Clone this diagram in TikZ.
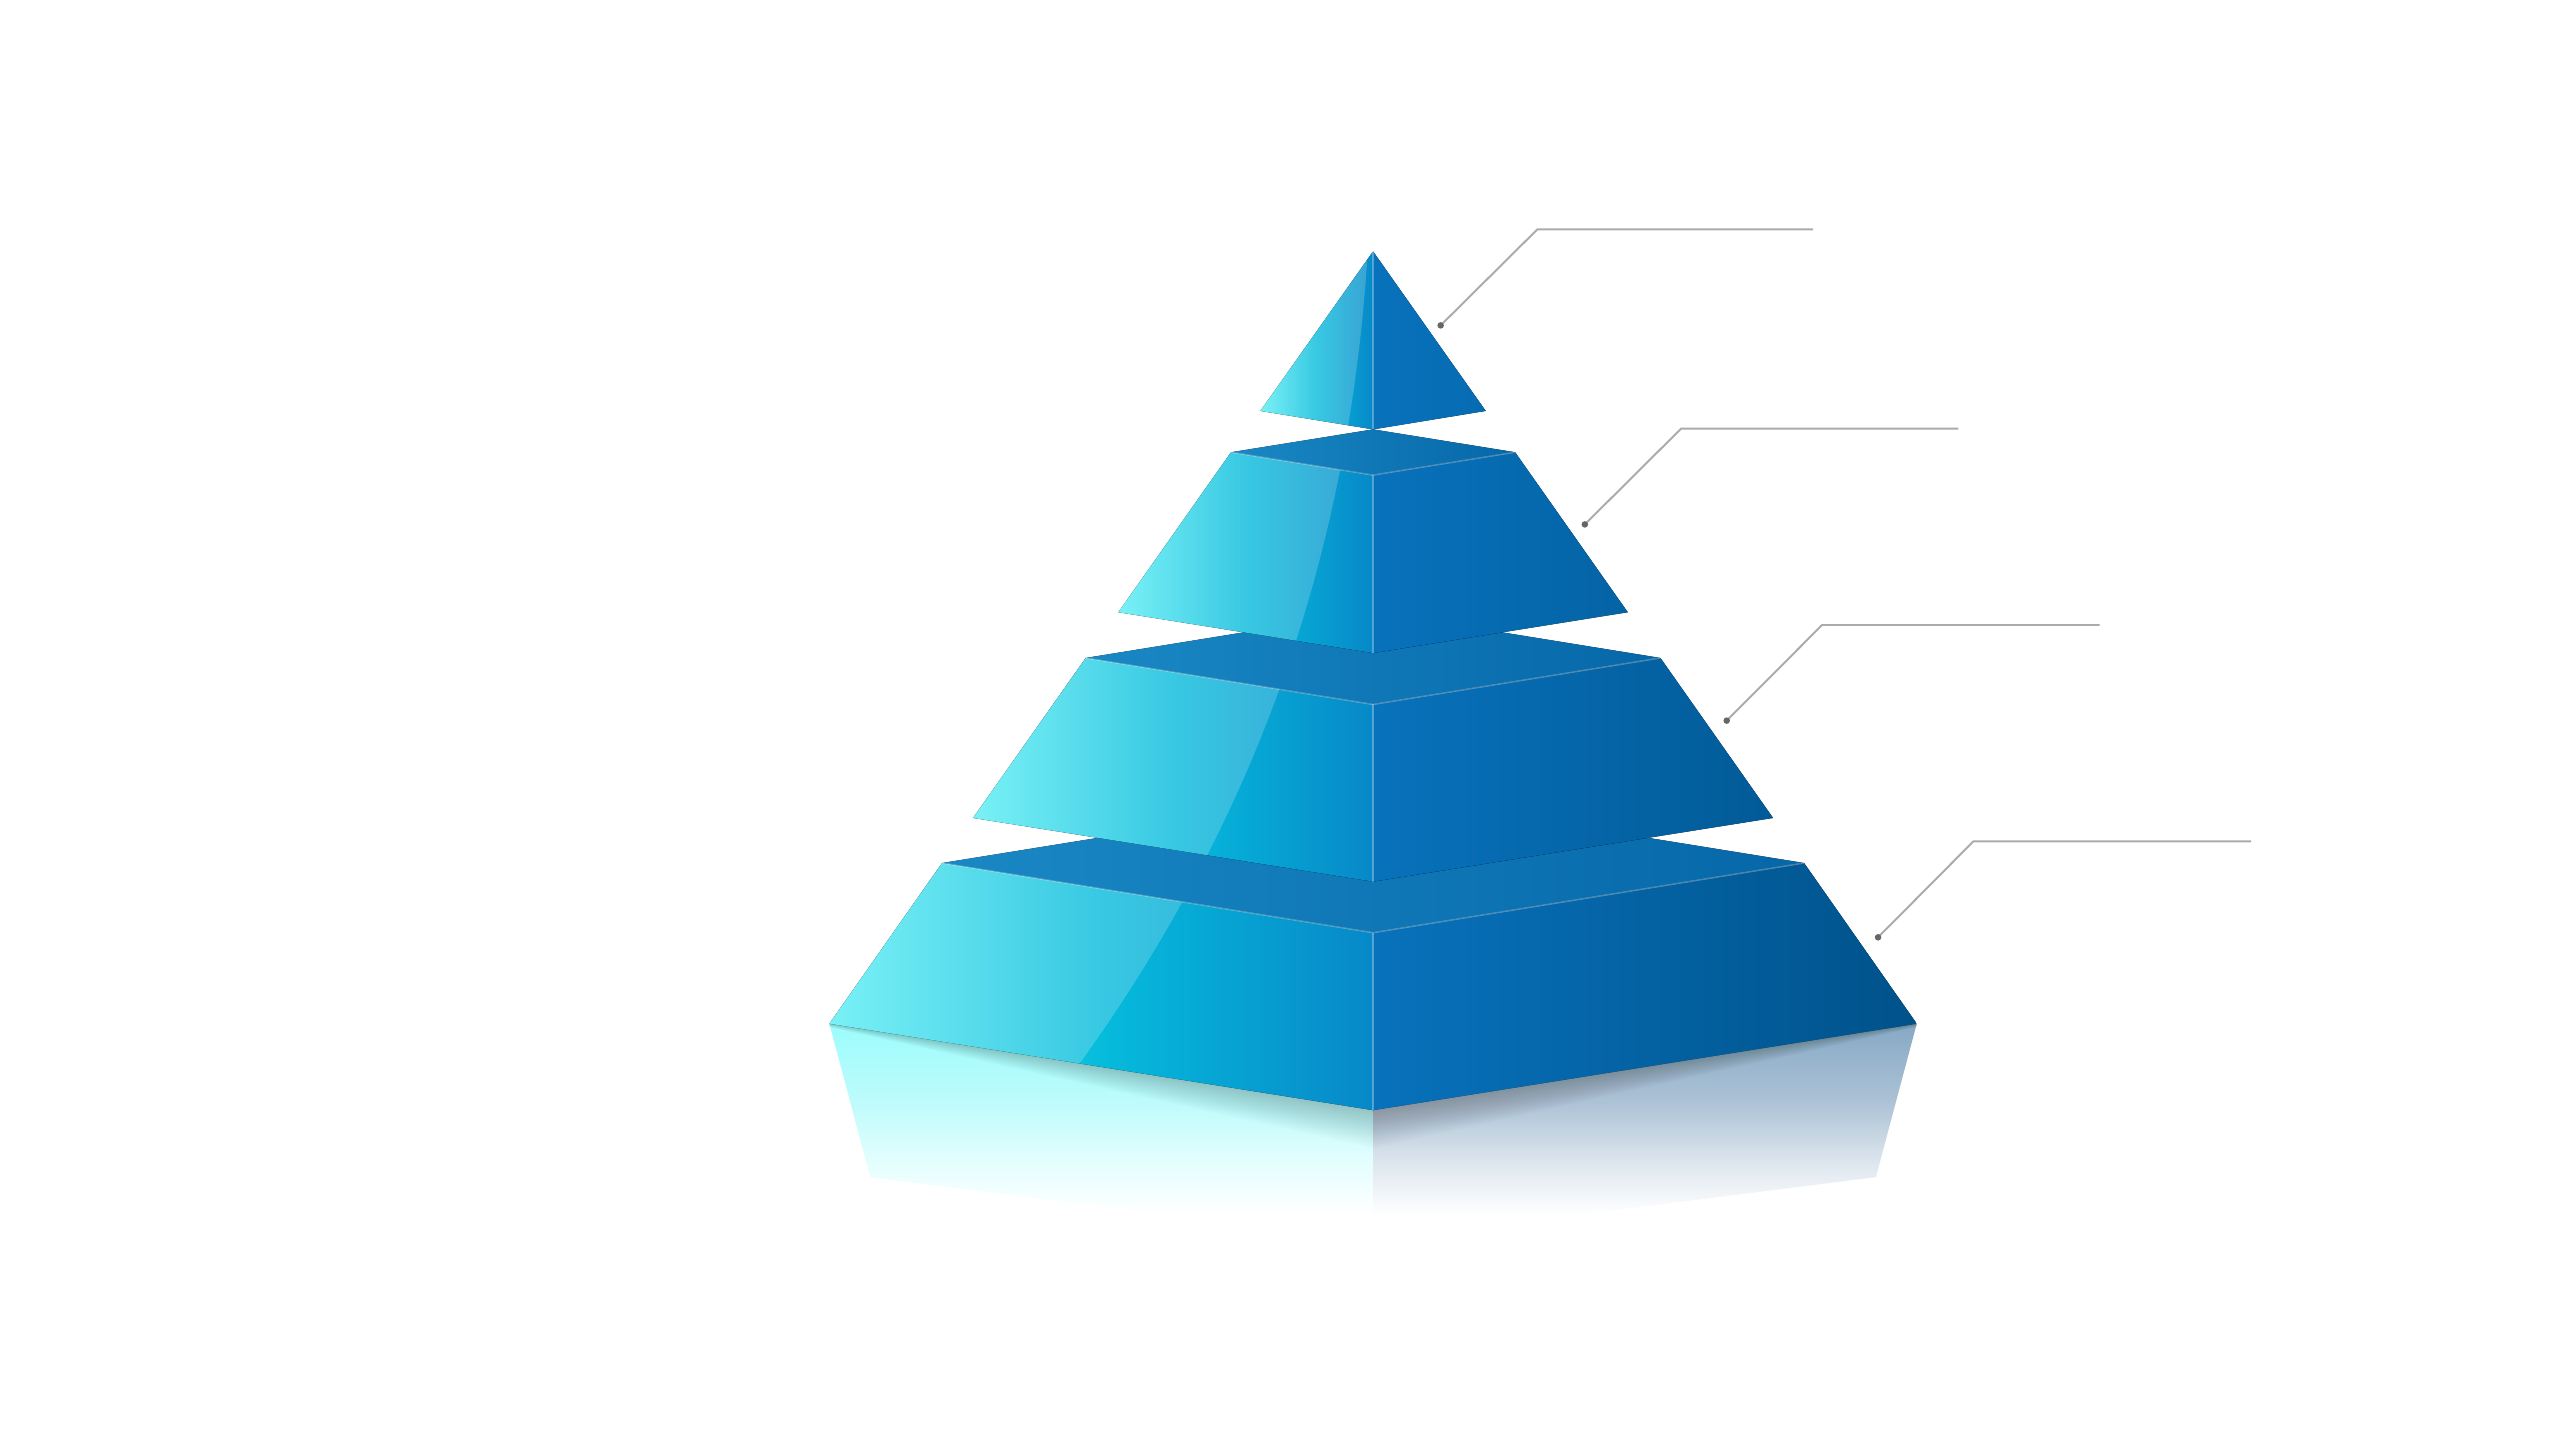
\documentclass[tikz,border=0pt]{standalone}
\usetikzlibrary{calc}
\definecolor{lfA}{HTML}{58EEF4}
\definecolor{lfB}{HTML}{06BBDC}
\definecolor{lfC}{HTML}{0788C8}
\definecolor{rfA}{HTML}{0872BC}
\definecolor{rfB}{HTML}{00528A}
\definecolor{tfA}{HTML}{1A88C5}
\definecolor{tfB}{HTML}{0667A8}
\definecolor{rlA}{HTML}{9CFCFC}
\definecolor{rlB}{HTML}{BEFBFC}
\definecolor{rlC}{HTML}{E4FEFE}
\definecolor{rrA}{HTML}{86A9C5}
\definecolor{rrB}{HTML}{ACC2D5}
\definecolor{rrC}{HTML}{DDE6EE}
\definecolor{leadc}{HTML}{ABABAB}
\definecolor{dotc}{HTML}{666666}
\pgfdeclareverticalshading{reflLeft}{100bp}{color(0bp)=(white); color(31bp)=(white); color(43bp)=(rlC); color(57bp)=(rlB); color(75bp)=(rlA); color(100bp)=(rlA)}
\pgfdeclareverticalshading{reflRight}{100bp}{color(0bp)=(white); color(31bp)=(white); color(43bp)=(rrC); color(57bp)=(rrB); color(75bp)=(rrA); color(100bp)=(rrA)}
\tikzset{
  leftface/.style={left color=lfA, right color=lfC, middle color=lfB},
  rightfill/.style={left color=rfA, right color=rfB},
  topface/.style={left color=tfA, right color=tfB},
  gloss/.style={fill=white, fill opacity=0.2},
  rimline/.style={draw=white, draw opacity=0.3, line width=0.8pt},
  leader/.style={draw=leadc, line width=1.2pt, line join=miter},
  leaderdot/.style={fill=dotc},
}
\begin{document}
\begin{tikzpicture}[x=1pt,y=-1pt]
\useasboundingbox (0,0) rectangle (1568,882);
% tier coordinates
\coordinate (A)   at (841,154);
\coordinate (L1b) at (772,251.7);
\coordinate (F1b) at (841,263);
\coordinate (R1b) at (910,251.7);
\coordinate (B2t) at (841,263);
\coordinate (L2t) at (754,277);
\coordinate (F2t) at (841,291);
\coordinate (R2t) at (928,277);
\coordinate (L2b) at (685,375);
\coordinate (F2b) at (841,400);
\coordinate (R2b) at (997,375);
\coordinate (B3t) at (841,374.5);
\coordinate (L3t) at (665,403);
\coordinate (F3t) at (841,431.5);
\coordinate (R3t) at (1017,403);
\coordinate (L3b) at (596,501);
\coordinate (F3b) at (841,540);
\coordinate (R3b) at (1086,501);
\coordinate (B4t) at (841,486);
\coordinate (L4t) at (577,528.6);
\coordinate (F4t) at (841,571.3);
\coordinate (R4t) at (1105,528.6);
\coordinate (L4b) at (508,627);
\coordinate (F4b) at (841,680);
\coordinate (R4b) at (1174,627);
% reflection
\shade[shading=reflLeft] (L4b) -- (F4b) -- (841,760) -- (533,721) -- cycle;
\shade[shading=reflRight] (F4b) -- (R4b) -- (1149,721) -- (841,760) -- cycle;
\foreach \i in {1,...,18}
  \fill[black, fill opacity=0.013] (L4b) -- (F4b) -- (R4b) -- ($(R4b)+(0,0.12*\i)$) -- ($(F4b)+(0,1.3*\i)$) -- ($(L4b)+(0,0.12*\i)$) -- cycle;
% tier 4
\fill[topface] (B4t) -- (L4t) -- (F4t) -- (R4t) -- cycle;
\fill[leftface] (L4t) -- (F4t) -- (F4b) -- (L4b) -- cycle;
\begin{scope}
  \clip (L4t) -- (F4t) -- (F4b) -- (L4b) -- cycle;
  \fill[gloss] (838,150) .. controls (828,320) and (780,490) .. (655,660) -- (400,660) -- (400,150) -- cycle;
\end{scope}
\begin{scope}
  \clip (F4t) -- (R4t) -- (R4b) -- (F4b) -- cycle;
  \fill[rightfill] (841,140) rectangle (1174,690);
\end{scope}
\draw[rimline] (L4t) -- (F4t) -- (R4t);
\draw[rimline] (F4t) -- (F4b);
% tier 3
\fill[topface] (B3t) -- (L3t) -- (F3t) -- (R3t) -- cycle;
\fill[leftface] (L3t) -- (F3t) -- (F3b) -- (L3b) -- cycle;
\begin{scope}
  \clip (L3t) -- (F3t) -- (F3b) -- (L3b) -- cycle;
  \fill[gloss] (838,150) .. controls (828,320) and (780,490) .. (655,660) -- (400,660) -- (400,150) -- cycle;
\end{scope}
\begin{scope}
  \clip (F3t) -- (R3t) -- (R3b) -- (F3b) -- cycle;
  \fill[rightfill] (841,140) rectangle (1174,690);
\end{scope}
\draw[rimline] (L3t) -- (F3t) -- (R3t);
\draw[rimline] (F3t) -- (F3b);
% tier 2
\fill[topface] (B2t) -- (L2t) -- (F2t) -- (R2t) -- cycle;
\fill[leftface] (L2t) -- (F2t) -- (F2b) -- (L2b) -- cycle;
\begin{scope}
  \clip (L2t) -- (F2t) -- (F2b) -- (L2b) -- cycle;
  \fill[gloss] (838,150) .. controls (828,320) and (780,490) .. (655,660) -- (400,660) -- (400,150) -- cycle;
\end{scope}
\begin{scope}
  \clip (F2t) -- (R2t) -- (R2b) -- (F2b) -- cycle;
  \fill[rightfill] (841,140) rectangle (1174,690);
\end{scope}
\draw[rimline] (L2t) -- (F2t) -- (R2t);
\draw[rimline] (F2t) -- (F2b);
% tier 1
\fill[leftface] (A) -- (F1b) -- (L1b) -- cycle;
\begin{scope}
  \clip (A) -- (F1b) -- (L1b) -- cycle;
  \fill[gloss] (838,150) .. controls (828,320) and (780,490) .. (655,660) -- (400,660) -- (400,150) -- cycle;
\end{scope}
\begin{scope}
  \clip (A) -- (R1b) -- (F1b) -- cycle;
  \fill[rightfill] (841,140) rectangle (1174,690);
\end{scope}
\draw[rimline] (A) -- (F1b);
% leaders
\coordinate (d1) at (882.4,199.3);
\coordinate (k1) at (941.6,140.5);
\coordinate (e1) at (1110.5,140.5);
\coordinate (d2) at (970.7,321.2);
\coordinate (k2) at (1029.7,262.5);
\coordinate (e2) at (1199.5,262.5);
\coordinate (d3) at (1057.6,441.4);
\coordinate (k3) at (1116,382.8);
\coordinate (e3) at (1286,382.8);
\coordinate (d4) at (1150.3,574.1);
\coordinate (k4) at (1208.7,515.3);
\coordinate (e4) at (1378.8,515.3);
\foreach \i in {1,2,3,4}{
  \draw[leader] (d\i) -- (k\i) -- (e\i);
  \fill[leaderdot] (d\i) circle (2);
}
\end{tikzpicture}
\end{document}
